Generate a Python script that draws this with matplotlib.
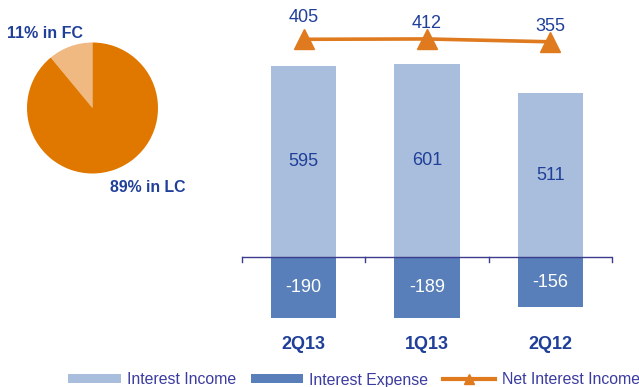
import matplotlib
matplotlib.use("Agg")
import matplotlib.pyplot as plt
from matplotlib.patches import Patch
from matplotlib.lines import Line2D

plt.rcParams["font.family"] = ["Liberation Sans", "DejaVu Sans"]

QUARTERS = ["2Q13", "1Q13", "2Q12"]
INTEREST_INCOME = [595, 601, 511]
INTEREST_EXPENSE = [-190, -189, -156]
NET_INTEREST_INCOME = [405, 412, 355]

CURRENCY_SHARE = [11, 89]
CURRENCY_LABELS = ["11% in FC", "89% in LC"]

LIGHT_BLUE = "#A9BDDC"
DARK_BLUE = "#587FB9"
ORANGE = "#E07A1F"
PIE_DARK = "#E07800"
PIE_LIGHT = "#F0B982"
TEXT_BLUE = "#1F3F99"
LEGEND_TEXT = "#3C3CA0"
AXIS_COLOR = "#3C3C8C"

W, H = 639, 387
fig = plt.figure(figsize=(W / 100, H / 100), dpi=100)


def px_box(left, top, width, height):
    return [left / W, 1 - (top + height) / H, width / W, height / H]


# currency split pie
ax_pie = fig.add_axes(px_box(27, 42.5, 131, 131))
ax_pie.pie(CURRENCY_SHARE, colors=[PIE_LIGHT, PIE_DARK], startangle=90,
           counterclock=True, radius=1)
ax_pie.set_xlim(-1, 1)
ax_pie.set_ylim(-1, 1)
fig.text(7 / W, 1 - 33 / H, CURRENCY_LABELS[0], fontsize=11.5, fontweight="bold",
         color=TEXT_BLUE, va="center", ha="left")
fig.text(110 / W, 1 - 188 / H, CURRENCY_LABELS[1], fontsize=11.4, fontweight="bold",
         color=TEXT_BLUE, va="center", ha="left")

# income / expense bars
ax = fig.add_axes(px_box(242, 25, 370, 305))
x = list(range(len(QUARTERS)))
bw = 0.53
ax.bar(x, INTEREST_INCOME, width=bw, color=LIGHT_BLUE, zorder=1)
ax.bar(x, INTEREST_EXPENSE, width=bw, color=DARK_BLUE, zorder=1)
ax.set_xlim(-0.5, 2.5)
ax.set_ylim(-227, 723)

for xi, v in zip(x, INTEREST_INCOME):
    ax.text(xi, v / 2, str(v), ha="center", va="center", fontsize=13, color=TEXT_BLUE)
for xi, v in zip(x, INTEREST_EXPENSE):
    ax.text(xi, v / 2, str(v), ha="center", va="center", fontsize=13, color="white")

ax.axhline(0, color=AXIS_COLOR, linewidth=1, zorder=3)
for b in [-0.5, 0.5, 1.5, 2.5]:
    ax.plot([b, b], [0, -15], color=AXIS_COLOR, linewidth=1, zorder=3, clip_on=False)

for side in ["top", "right", "left", "bottom"]:
    ax.spines[side].set_visible(False)
ax.set_yticks([])
ax.set_xticks([])
for xi, q in zip(x, QUARTERS):
    ax.text(xi, -272, q, ha="center", va="center", fontsize=13, fontweight="bold",
            color=TEXT_BLUE)

# net interest income on its own scale
ax2 = ax.twinx()
ax2.set_ylim(-5409, 691)
ax2.plot(x, NET_INTEREST_INCOME, color=ORANGE, linewidth=2.6, marker="^",
         markersize=14.5, zorder=4)
ax2.axis("off")
for xi, v, dy in zip(x, NET_INTEREST_INCOME, [16, 11, 11]):
    ax2.annotate(str(v), (xi, v), xytext=(0, dy), textcoords="offset points",
                 ha="center", va="center", fontsize=13, color=TEXT_BLUE)

handles = [
    Patch(facecolor=LIGHT_BLUE, label="Interest Income"),
    Patch(facecolor=DARK_BLUE, label="Interest Expense"),
    Line2D([], [], color=ORANGE, linewidth=3, marker="^", markersize=7,
           label="Net Interest Income"),
]
leg = fig.legend(handles=handles, ncol=3, loc="center", bbox_to_anchor=(354 / W, 7 / H),
                 frameon=False, fontsize=11.4, handlelength=3.3, handleheight=0.5,
                 handletextpad=0.38, columnspacing=0.95, borderpad=0)
for t in leg.get_texts():
    t.set_color(LEGEND_TEXT)

fig.savefig("out.png", dpi=100)
